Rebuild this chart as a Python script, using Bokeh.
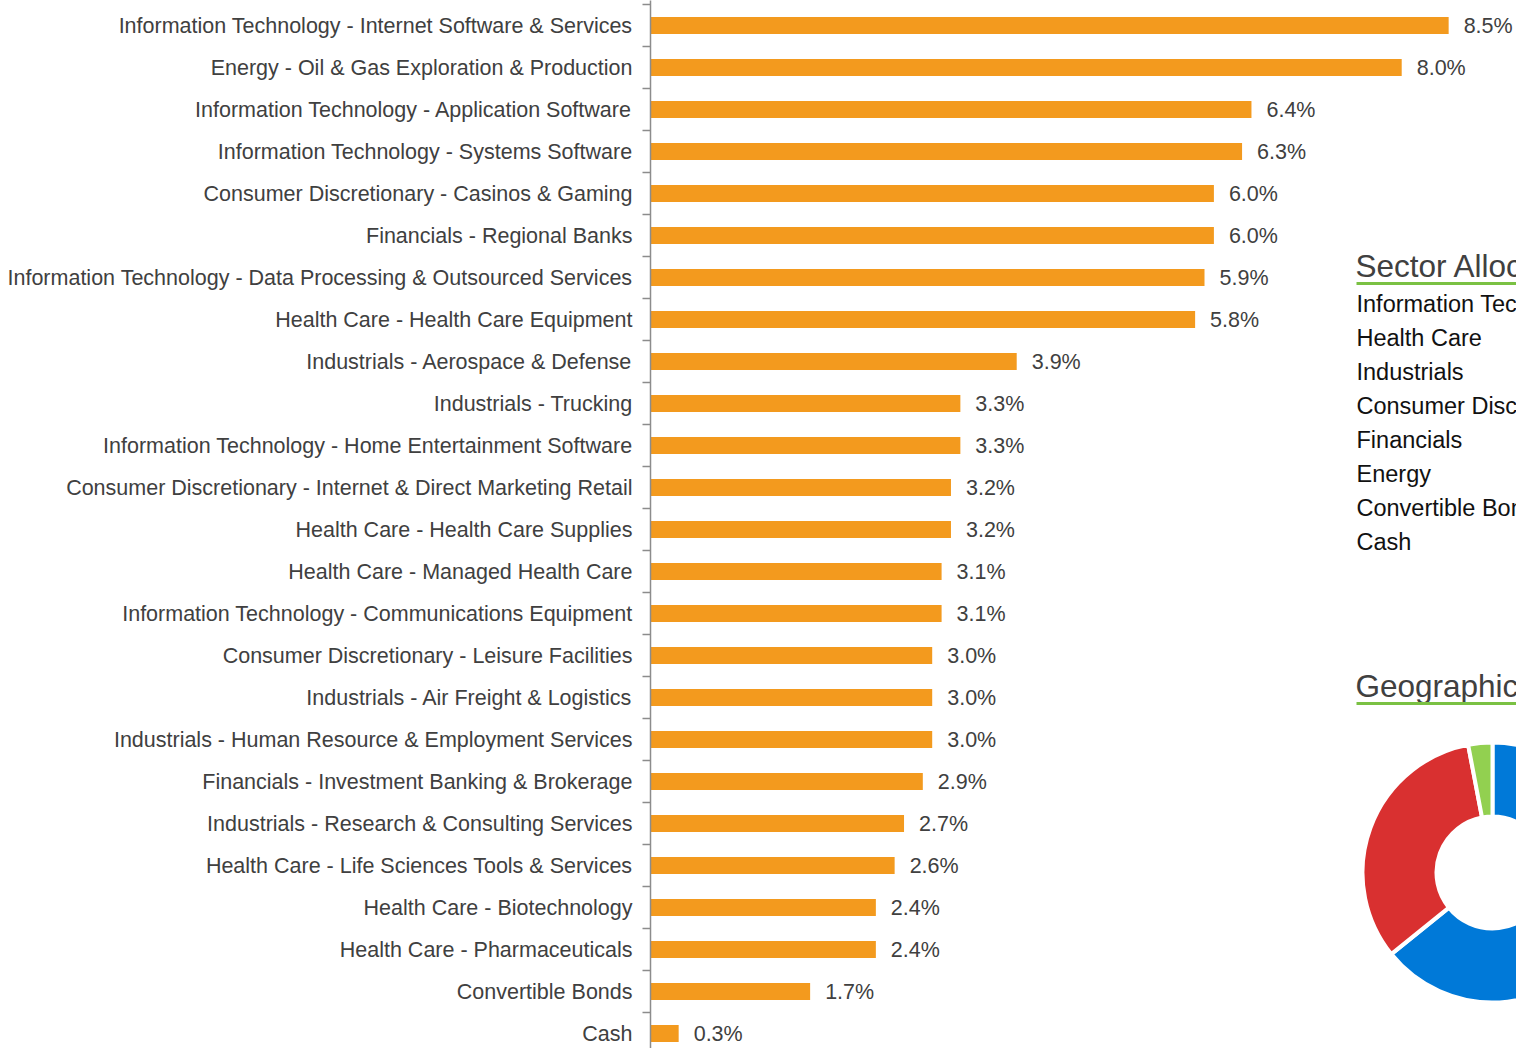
from bokeh.plotting import figure
from bokeh.models import Range1d, FixedTicker, ColumnDataSource, LinearAxis
from bokeh.embed import file_html
from bokeh.resources import INLINE
from bokeh.core.properties import value
import math

categories = [
    "Information Technology - Internet Software & Services",
    "Energy - Oil & Gas Exploration & Production",
    "Information Technology - Application Software",
    "Information Technology - Systems Software",
    "Consumer Discretionary - Casinos & Gaming",
    "Financials - Regional Banks",
    "Information Technology - Data Processing & Outsourced Services",
    "Health Care - Health Care Equipment",
    "Industrials - Aerospace & Defense",
    "Industrials - Trucking",
    "Information Technology - Home Entertainment Software",
    "Consumer Discretionary - Internet & Direct Marketing Retail",
    "Health Care - Health Care Supplies",
    "Health Care - Managed Health Care",
    "Information Technology - Communications Equipment",
    "Consumer Discretionary - Leisure Facilities",
    "Industrials - Air Freight & Logistics",
    "Industrials - Human Resource & Employment Services",
    "Financials - Investment Banking & Brokerage",
    "Industrials - Research & Consulting Services",
    "Health Care - Life Sciences Tools & Services",
    "Health Care - Biotechnology",
    "Health Care - Pharmaceuticals",
    "Convertible Bonds",
    "Cash",
]
weights = [8.5, 8.0, 6.4, 6.3, 6.0, 6.0, 5.9, 5.8, 3.9, 3.3, 3.3, 3.2, 3.2,
           3.1, 3.1, 3.0, 3.0, 3.0, 2.9, 2.7, 2.6, 2.4, 2.4, 1.7, 0.3]

sector_names = ["Information Technology", "Health Care", "Industrials",
                "Consumer Discretionary", "Financials", "Energy",
                "Convertible Bonds", "Cash"]

sector_title = "Sector Allocation"
geo_title = "Geographic Allocation"
geo_names = ["Region A", "Region B", "Region C"]
geo_values = [64.2, 32.8, 3.0]
geo_colors = ["#0079d8", "#d93030", "#92d050"]

BAR = "#f39a1e"
TXT = "#404040"
FONT = "Liberation Sans"

n = len(categories)
pos = list(range(n))

W, H = 1516, 1048
LEFT = 650
FW = W - LEFT
px_per_unit = 93.9
row_px = 42.0
top = -25 / row_px

p = figure(width=W, height=H, output_backend="svg", toolbar_location=None,
           x_range=Range1d(0, FW / px_per_unit),
           y_range=Range1d(top + H / row_px, top),
           min_border_left=LEFT, min_border_right=0, min_border_top=0,
           min_border_bottom=0, x_axis_location=None, y_axis_location=None)
p.outline_line_color = None
p.xgrid.visible = False
p.ygrid.visible = False
p.background_fill_color = "white"
p.border_fill_color = "white"

yaxis = LinearAxis(
    ticker=FixedTicker(ticks=pos, minor_ticks=[i + 0.5 for i in range(-1, n)]),
    major_label_overrides={i: c for i, c in enumerate(categories)},
    major_tick_out=0, major_tick_in=0,
    minor_tick_out=8, minor_tick_in=0,
    minor_tick_line_color="#8c8c8c", minor_tick_line_width=1.5,
    axis_line_color="#8c8c8c", axis_line_width=1.5,
    major_label_standoff=10,
    major_label_text_font=FONT, major_label_text_font_size="21.5px",
    major_label_text_color=TXT,
)
p.add_layout(yaxis, "left")

src = ColumnDataSource(dict(y=pos, w=weights,
                            lbl=[f"{v:.1f}%" for v in weights]))
p.hbar(y="y", left=0, right="w", height=0.4, source=src,
       fill_color=BAR, line_color=None)
p.text(x="w", y="y", text="lbl", source=src, x_offset=15,
       text_baseline="middle", text_align="left",
       text_font=value(FONT), text_font_size="21.5px", text_color=TXT)

# ---- right-hand panel (pixel-like extra ranges) ----
p.extra_x_ranges = {"px": Range1d(LEFT, W)}
p.extra_y_ranges = {"py": Range1d(H, 0)}

# Sector Allocation heading
p.text(x=[1355], y=[265], text=[sector_title], x_range_name="px",
       y_range_name="py", text_baseline="middle",
       text_font=value(FONT), text_font_size="31.5px", text_color=TXT)
p.segment(x0=[1356], x1=[W + 10], y0=[283], y1=[283],
          x_range_name="px", y_range_name="py",
          line_color="#7ac143", line_width=3)
p.text(x=[1356] * len(sector_names),
       y=[303 + 34 * i for i in range(len(sector_names))],
       text=sector_names, x_range_name="px", y_range_name="py",
       text_baseline="middle", text_font=value(FONT),
       text_font_size="23.5px", text_color="#111111")

# Geographic heading
p.text(x=[1355], y=[685], text=[geo_title], x_range_name="px",
       y_range_name="py", text_baseline="middle",
       text_font=value(FONT), text_font_size="31.5px", text_color=TXT)
p.segment(x0=[1356], x1=[W + 10], y0=[703], y1=[703],
          x_range_name="px", y_range_name="py",
          line_color="#7ac143", line_width=3)

# donut: clockwise from top
total = sum(geo_values)
starts, ends = [], []
acc = 0.0
for v in geo_values:
    a0 = math.pi / 2 - 2 * math.pi * acc / total
    acc += v
    a1 = math.pi / 2 - 2 * math.pi * acc / total
    starts.append(a1)
    ends.append(a0)
dsrc = ColumnDataSource(dict(x=[1492] * 3, y=[872] * 3,
                             s=starts, e=ends, c=geo_colors, name=geo_names))
p.annular_wedge(x="x", y="y", inner_radius=56, outer_radius=130,
                inner_radius_units="screen", outer_radius_units="screen",
                start_angle="s", end_angle="e", fill_color="c",
                line_color="white", line_width=4, source=dsrc,
                x_range_name="px", y_range_name="py")

open("out.html", "w").write(file_html(p, INLINE))
